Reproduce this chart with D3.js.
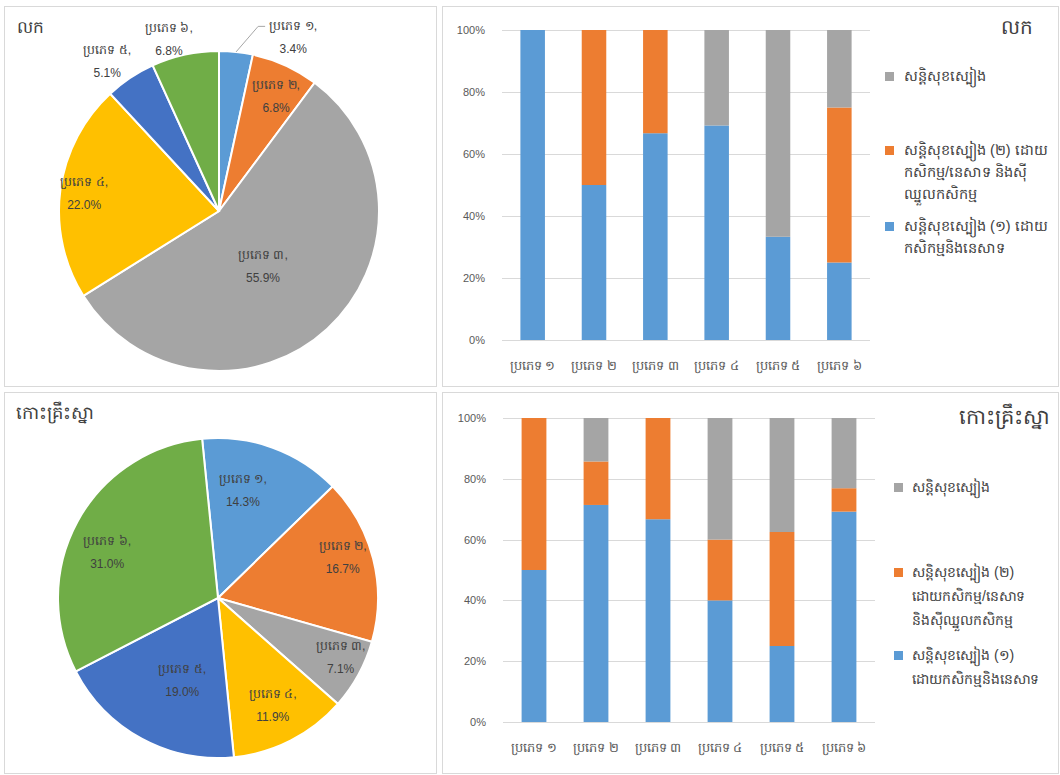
<!DOCTYPE html>
<head>
  <meta charset="utf-8">
  <script src="https://cdn.jsdelivr.net/npm/d3@7/dist/d3.min.js"></script>
  <style>
    body { margin:0; background:#fff; }
    text { font-family: "Liberation Sans", Arial, sans-serif; }
  </style>
</head>
<body>
<script>
// ---- data ----
var types = ["ប្រភេទ ១", "ប្រភេទ ២", "ប្រភេទ ៣", "ប្រភេទ ៤", "ប្រភេទ ៥", "ប្រភេទ ៦"];
var lokTitle = "លក";
var kohTitle = "កោះគ្រឹះស្នា";

// pie shares (%)
var lokShare = [3.4, 6.8, 55.9, 22.0, 5.1, 6.8];
var kohShare = [14.3, 16.7, 7.1, 11.9, 19.0, 31.0];

// stacked 100% bars (%)
var lokFood1 = [100, 50, 66.7, 69.2, 33.3, 25];
var lokFood2 = [0, 50, 33.3, 0, 0, 50];
var lokFood  = [0, 0, 0, 30.8, 66.7, 25];
var kohFood1 = [50, 71.4, 66.7, 40, 25, 69.2];
var kohFood2 = [50, 14.3, 33.3, 20, 37.5, 7.7];
var kohFood  = [0, 14.3, 0, 40, 37.5, 23.1];

var yTicks = [0, 20, 40, 60, 80, 100];

// legend texts, top to bottom, already wrapped like the original
var lokLegend = [
  ["សន្តិសុខស្បៀង"],
  ["សន្តិសុខស្បៀង (២) ដោយ", "កសិកម្ម/នេសាទ និងស៊ី", "ឈ្នួលកសិកម្ម"],
  ["សន្តិសុខស្បៀង (១) ដោយ", "កសិកម្មនិងនេសាទ"]
];
var kohLegend = [
  ["សន្តិសុខស្បៀង"],
  ["សន្តិសុខស្បៀង (២)", "ដោយកសិកម្ម/នេសាទ", "និងស៊ីឈ្នួលកសិកម្ម"],
  ["សន្តិសុខស្បៀង (១)", "ដោយកសិកម្មនិងនេសាទ"]
];

var pieColors = ["#5b9bd5", "#ed7d31", "#a5a5a5", "#ffc000", "#4472c4", "#70ad47"];
var barColors = ["#5b9bd5", "#ed7d31", "#a5a5a5"];   // food1, food2, food
var legendColors = ["#a5a5a5", "#ed7d31", "#5b9bd5"];

var width = 1060, height = 775;

var svg = d3.select("body").append("svg")
  .attr("width", width)
  .attr("height", height);

// panels
var panels = [[4, 6, 432, 380], [442, 6, 616, 380], [4, 392, 432, 381], [442, 392, 616, 381]];
svg.selectAll("rect.panel").data(panels).enter().append("rect")
  .attr("class", "panel")
  .attr("x", function(d) { return d[0] + 0.5; })
  .attr("y", function(d) { return d[1] + 0.5; })
  .attr("width", function(d) { return d[2]; })
  .attr("height", function(d) { return d[3]; })
  .attr("fill", "#fff")
  .attr("stroke", "#d9d9d9");

// label placement per slice: [radius factor, angle nudge in degrees, outside?]
var lokLabelPos = [[1.18, 17, true], [0.80, 2, false], [0.44, 4, false], [0.85, 0, false], [1.17, -3, true], [1.12, -4, true]];
var kohLabelPos = [[0.69, -7, false], [0.82, -4, false], [0.85, -3, false], [0.75, 0, false], [0.56, -5, false], [0.75, -6, false]];

function drawPie(cx, cy, r, startDeg, values, labelPos) {
  var a0 = startDeg * Math.PI / 180;
  var pie = d3.pie().sort(null).startAngle(a0).endAngle(a0 + 2 * Math.PI);
  var arc = d3.arc().innerRadius(0).outerRadius(r);
  var arcs = pie(values);
  var g = svg.append("g").attr("transform", "translate(" + cx + "," + cy + ")");

  g.selectAll("path").data(arcs).enter().append("path")
    .attr("d", arc)
    .attr("fill", function(d, i) { return pieColors[i]; })
    .attr("stroke", "#fff")
    .attr("stroke-width", 2);

  arcs.forEach(function(d, i) {
    var p = labelPos[i];
    var mid = (d.startAngle + d.endAngle) / 2;
    var a = mid + p[1] * Math.PI / 180;
    var lx = Math.sin(a) * r * p[0];
    var ly = -Math.cos(a) * r * p[0];
    if (p[2] && i === 0) {
      // leader line
      var ex = Math.sin(mid) * r, ey = -Math.cos(mid) * r;
      g.append("polyline")
        .attr("points", [[ex, ey], [lx - 35, ly - 11], [lx - 28, ly - 11]].join(" "))
        .attr("fill", "none")
        .attr("stroke", "#a6a6a6")
        .attr("stroke-width", 1);
    }
    var t = g.append("text")
      .attr("text-anchor", "middle")
      .attr("font-size", 12.5)
      .attr("fill", "#404040");
    t.append("tspan").attr("x", lx).attr("y", ly - 7).text(types[i] + ",");
    t.append("tspan").attr("x", lx).attr("y", ly + 16).attr("font-size", 12).text(d3.format(".1f")(values[i]) + "%");
  });
}

function drawBars(x0, x1, yTop, yBot, s1, s2, s3) {
  var rows = types.map(function(t, i) { return { type: t, f1: s1[i], f2: s2[i], f3: s3[i] }; });
  var keys = ["f1", "f2", "f3"];
  var stack = d3.stack().keys(keys)(rows);

  var x = d3.scaleBand().domain(types).range([x0, x1]).paddingInner(0.6).paddingOuter(0.3);
  var y = d3.scaleLinear().domain([0, 100]).range([yBot, yTop]);

  var g = svg.append("g");

  g.selectAll("line.grid").data(yTicks).enter().append("line")
    .attr("x1", x0).attr("x2", x1)
    .attr("y1", function(d) { return Math.round(y(d)) + 0.5; })
    .attr("y2", function(d) { return Math.round(y(d)) + 0.5; })
    .attr("stroke", "#d9d9d9");

  g.selectAll("text.ytick").data(yTicks).enter().append("text")
    .attr("x", x0 - 17)
    .attr("y", function(d) { return y(d) + 4; })
    .attr("text-anchor", "end")
    .attr("font-size", 11)
    .attr("fill", "#595959")
    .text(function(d) { return d + "%"; });

  g.selectAll("g.series").data(stack).enter().append("g")
    .attr("fill", function(d, i) { return barColors[i]; })
    .selectAll("rect").data(function(d) { return d; }).enter().append("rect")
    .attr("x", function(d) { return x(d.data.type); })
    .attr("width", x.bandwidth())
    .attr("y", function(d) { return y(d[1]); })
    .attr("height", function(d) { return y(d[0]) - y(d[1]); });

  g.selectAll("text.xtick").data(types).enter().append("text")
    .attr("x", function(d) { return x(d) + x.bandwidth() / 2; })
    .attr("y", yBot + 30)
    .attr("text-anchor", "middle")
    .attr("font-size", 13)
    .attr("fill", "#595959")
    .text(function(d) { return d; });
}

function drawLegend(lx, tx, rowsY, lines, lineH, fs) {
  var g = svg.append("g");
  lines.forEach(function(ls, i) {
    g.append("rect")
      .attr("x", lx).attr("y", rowsY[i] - 4)
      .attr("width", 9).attr("height", 9)
      .attr("fill", legendColors[i]);
    ls.forEach(function(s, j) {
      g.append("text")
        .attr("x", tx)
        .attr("y", rowsY[i] + 5 + j * lineH)
        .attr("font-size", fs)
        .attr("fill", "#404040")
        .text(s);
    });
  });
}

// top row: lok
svg.append("text").attr("x", 17).attr("y", 33).attr("font-size", 17).attr("fill", "#404040").text(lokTitle);
drawPie(219, 211, 160, 0, lokShare, lokLabelPos);
drawBars(502, 870, 30, 340, lokFood1, lokFood2, lokFood);
svg.append("text").attr("x", 1033).attr("y", 34).attr("text-anchor", "end").attr("font-size", 20).attr("fill", "#404040").text(lokTitle);
drawLegend(885, 904, [76, 150, 226], lokLegend, 22, 14.5);

// bottom row: koh
svg.append("text").attr("x", 16).attr("y", 419).attr("font-size", 18).attr("fill", "#404040").text(kohTitle);
drawPie(218, 598, 160, -5.7, kohShare, kohLabelPos);
drawBars(503, 875, 418, 722, kohFood1, kohFood2, kohFood);
svg.append("text").attr("x", 1050).attr("y", 424).attr("text-anchor", "end").attr("font-size", 21).attr("fill", "#404040").text(kohTitle);
drawLegend(894, 912, [487, 572, 655], kohLegend, 24, 14);
</script>
</body>
